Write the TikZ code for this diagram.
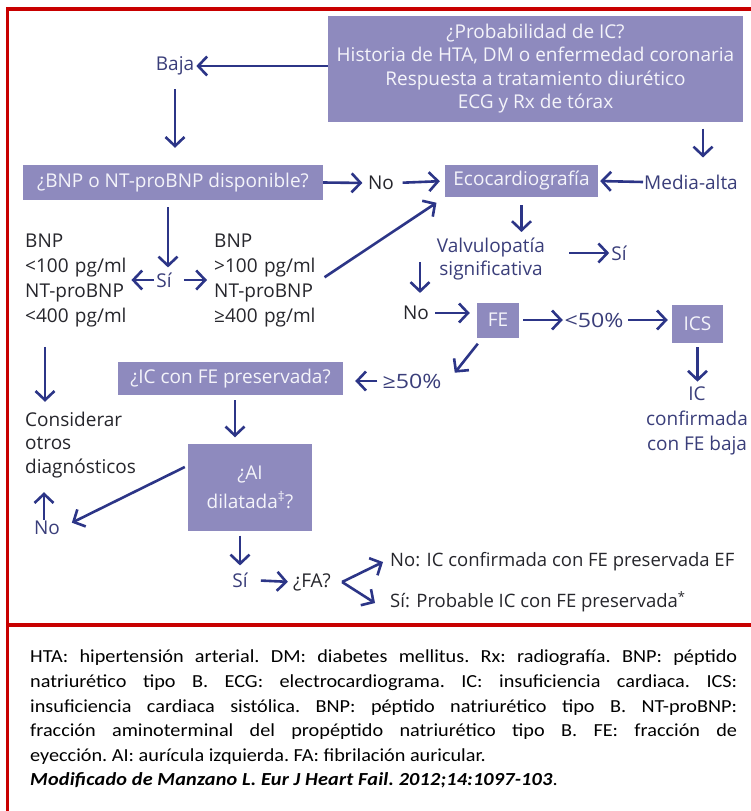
\documentclass[tikz,border=0pt]{standalone}
\usepackage{fontspec}
\usepackage{graphicx}
\setmainfont{Open Sans}
\newfontfamily\capfont[FakeStretch=1.1]{Carlito}
\usetikzlibrary{arrows.meta,calc}

\definecolor{boxfill}{RGB}{142,138,190}
\definecolor{boxtext}{RGB}{244,244,250}
\definecolor{arrowblue}{RGB}{44,53,135}
\definecolor{navytext}{RGB}{58,62,122}
\definecolor{darktext}{RGB}{38,38,44}
\definecolor{framered}{RGB}{200,0,0}

\newcommand{\widepct}[1]{\scalebox{1.22}[1.04]{#1}}

\tikzset{
  flow/.style={font=\fontsize{19}{25}\selectfont},
  box/.style={fill=boxfill, text=boxtext, inner sep=0pt, flow, align=center},
  lbl/.style={text=navytext, inner sep=1pt, flow},
  dark/.style={text=darktext, inner sep=1pt, flow},
  arr/.style={draw=arrowblue, line width=2.6pt,
    -{Straight Barb[length=9pt,width=19pt,line width=2.6pt]}},
  frameline/.style={draw=framered, line width=3.5pt},
}

\begin{document}
\begin{tikzpicture}[x=1pt,y=-1pt]
\useasboundingbox (0,0) rectangle (751,811);
\fill[white] (0,0) rectangle (751,811);

% red frame
\draw[frameline] (751,9) -- (7.5,9) -- (7.5,811);
\draw[frameline] (7.5,625) -- (751,625);

% boxes
\node[box, minimum width=415pt, minimum height=106pt,
      font=\fontsize{19}{23.5}\selectfont] (top) at (535.5,68.5)
  {¿Probabilidad de IC?\\Historia de HTA, DM o enfermedad coronaria\\Respuesta a tratamiento diurético\\ECG y Rx de tórax};
\node[box, minimum width=300pt, minimum height=35pt] (bnp) at (173,182.5) {¿BNP o NT-proBNP disponible?};
\node[box, minimum width=153pt, minimum height=32pt] (eco) at (521.5,181) {Ecocardiografía};
\node[box, minimum width=42pt, minimum height=35pt] (fe) at (498,320) {FE};
\node[box, minimum width=51pt, minimum height=38pt] (ics) at (697.5,324) {ICS};
\node[box, minimum width=225pt, minimum height=33pt] (icfe) at (230.5,378.5) {¿IC con FE preservada?};
\node[box, minimum width=124pt, minimum height=87pt, font=\fontsize{19}{29}\selectfont] (ai) at (250,487) {¿AI\\dilatada\textsuperscript{‡}?};

% labels
\node[lbl] (baja) at (175,66) {Baja};
\node[dark] (no1) at (381,183) {No};
\node[lbl] (media) at (691,182) {Media-alta};
\node[lbl] (si1) at (164,280) {Sí};
\node[dark, anchor=west, text width=105pt, align=left] (lowbnp) at (24,280)
  {BNP\\<100 pg/ml\\NT-proBNP\\<400 pg/ml};
\node[dark, anchor=west, text width=105pt, align=left] (highbnp) at (213,280)
  {BNP\\>100 pg/ml\\NT-proBNP\\≥400 pg/ml};
\node[lbl, align=center, font=\fontsize{19}{22.5}\selectfont] (valv) at (491,259) {Valvulopatía\\significativa};
\node[lbl] (si2) at (619,253) {Sí};
\node[dark] (no2) at (416,313) {No};
\node[lbl, minimum width=62pt] (lt50) at (594,320) {\widepct{<50\%}};
\node[lbl, align=center] (icconf) at (697,421) {IC\\confirmada\\con FE baja};
\node[lbl, minimum width=59pt] (ge50) at (412,381) {\widepct{≥50\%}};
\node[dark, anchor=west, align=left, font=\fontsize{19}{23.5}\selectfont] (consid) at (24,445)
  {Considerar\\otros\\diagnósticos};
\node[lbl] (no3) at (47,528) {No};
\node[lbl] (si3) at (240,580) {Sí};
\node[dark] (fa) at (312,582) {¿FA?};
\node[dark, anchor=west, font=\fontsize{18.5}{25}\selectfont] (nofin) at (389,562) {No: IC confirmada con FE preservada EF};
\node[dark, anchor=west, font=\fontsize{18.5}{25}\selectfont] (sifin) at (389,602) {Sí: Probable IC con FE preservada\textsuperscript{*}};
\coordinate (fork) at ($(fa.east)+(10,0)$);

% connectors
\draw[arr, shorten >=1pt] (top.west |- baja.east) -- (baja.east);
\draw[arr, shorten <=13pt, shorten >=17pt] (baja.south) -- (baja.south |- bnp.north);
\draw[arr, shorten >=4.5pt] (bnp.east) -- (no1.west);
\draw[arr, shorten <=7.5pt, shorten >=5pt] (no1.east) -- (eco.west);
\draw[arr, shorten >=2pt] (media.west) -- (eco.east);
\draw[arr, shorten <=7pt, shorten >=16pt] ($(top.south -| media.north)+(12,0)$) -- ($(media.north)+(12,0)$);
\draw[arr, shorten <=7pt, shorten >=4pt] ($(bnp.south -| si1.north)+(4,0)$) -- ($(si1.north)+(4,0)$);
\draw[arr, shorten <=1pt] (si1.west) -- (lowbnp.east |- si1.west);
\draw[arr, shorten <=11pt, shorten >=6pt] (si1.east) -- (highbnp.west |- si1.east);
\draw[arr, shorten <=5pt, shorten >=10pt] (highbnp.east) -- (eco.south west);
\draw[arr, shorten <=8pt, shorten >=5pt] (eco.south) -- (eco.south |- valv.north);
\draw[arr, shorten <=23pt, shorten >=1pt] (valv.east |- si2.west) -- (si2.west);
\draw[arr, shorten >=12pt] ($(no2.north |- valv.west)+(4,3)$) -- ($(no2.north)+(4,0)$);
\draw[arr, shorten <=5pt, shorten >=7pt] (no2.east) -- (no2.east -| fe.west);
\draw[arr, shorten <=4pt] (fe.east) -- (lt50.west);
\draw[arr, shorten <=3pt, shorten >=4pt] (lt50.east) -- (lt50.east -| ics.west);
\draw[arr, shorten <=4pt, shorten >=4pt] (ics.south) -- (ics.south |- icconf.north);
\draw[arr] ($(fe.south west)+(1,6)$) -- ($(fe.south west)+(-22,35)$);
\draw[arr, shorten <=4pt, shorten >=12pt] (ge50.west) -- (ge50.west -| icfe.east);
\draw[arr, shorten <=5pt, shorten >=6pt] ($(icfe.south)+(4.5,0)$) -- ($(icfe.south |- ai.north)+(4.5,0)$);
\draw[arr, shorten <=19pt, shorten >=9pt] ($(lowbnp.south west)+(21,0)$) -- ($(lowbnp.south west |- consid.north)+(21,0)$);
\draw[arr, shorten >=13pt] ($(no3.north -| consid.west)+(20,0)$) -- ($(consid.south west)+(20,0)$);
\draw[arr, shorten >=12pt] ($(ai.west)+(-3,-20)$) -- (no3.east);
\draw[arr, shorten <=5pt, shorten >=6pt] (ai.south -| si3.north) -- (si3.north);
\draw[arr, shorten <=12pt, shorten >=4pt] (si3.east) -- (fa.west);
\draw[arr] (fork) -- ($(nofin.west)+(-6,0)$);
\draw[arr] (fork) -- ($(sifin.west)+(-14,1)$);

% abbreviations and source
\node[anchor=north west, text width=707pt, align=justify, inner sep=0pt,
      font=\capfont\fontsize{18.4}{24.6}\selectfont\frenchspacing] (cap) at (30,650)
  {HTA: hipertensión arterial. DM: diabetes mellitus. Rx: radiografía. BNP: péptido\linebreak
   natriurético tipo B. ECG: electrocardiograma. IC: insuficiencia cardiaca. ICS:\linebreak
   insuficiencia cardiaca sistólica. BNP: péptido natriurético tipo B. NT-proBNP:\linebreak
   fracción aminoterminal del propéptido natriurético tipo B. FE: fracción de\linebreak
   eyección. AI: aurícula izquierda. FA: fibrilación auricular.\\
   {\addfontfeatures{LetterSpace=1}\textbf{\textit{Modificado de Manzano L. Eur J Heart Fail. 2012;14:1097-103}}}.};
\end{tikzpicture}
\end{document}
